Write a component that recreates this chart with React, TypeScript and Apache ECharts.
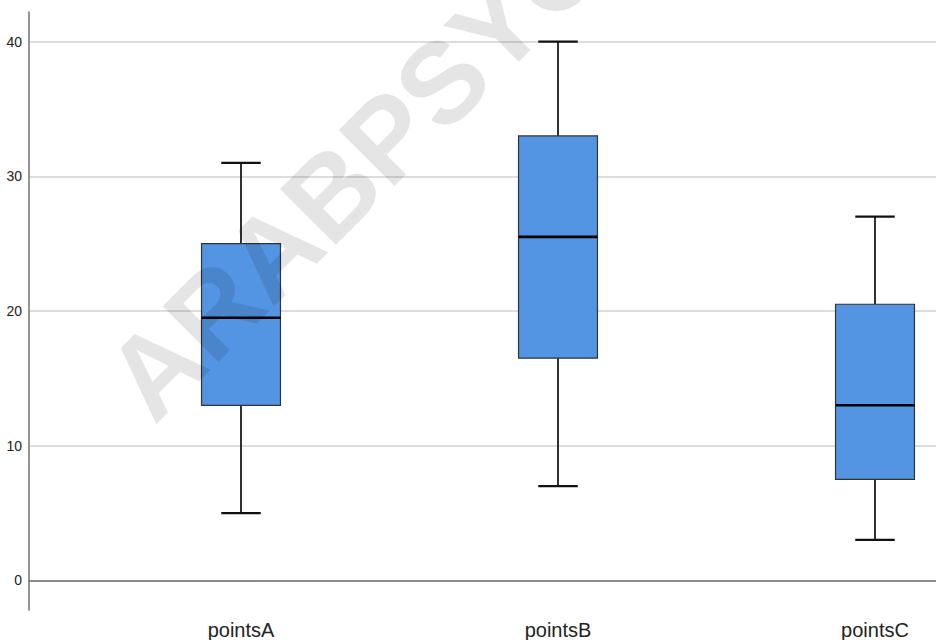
import React, { useEffect, useRef } from "react";
import * as echarts from "echarts";

const categories = ["pointsA", "pointsB", "pointsC"];
// [min, Q1, median, Q3, max]
const minValues = [5, 7, 3];
const q1Values = [13, 16.5, 7.5];
const medianValues = [19.5, 25.5, 13];
const q3Values = [25, 33, 20.5];
const maxValues = [31, 40, 27];
const watermarkText = "ARABPSYCHOLOGY";

const FONT = '"Liberation Sans", Arial, sans-serif';

export default function App() {
  const ref = useRef<HTMLDivElement>(null);

  useEffect(() => {
    if (!ref.current) return;
    const chart = echarts.init(ref.current, undefined, { renderer: "svg" });

    const boxData = categories.map((_, i) => [
      i,
      minValues[i],
      q1Values[i],
      medianValues[i],
      q3Values[i],
      maxValues[i],
    ]);

    const option: any = {
      animation: false,
      backgroundColor: "#ffffff",
      grid: [
        { left: 29, width: 920, top: 12, bottom: 30, outerBoundsMode: "none", containLabel: false },
        { left: 82.5, width: 951, top: 12, bottom: 30, outerBoundsMode: "none", containLabel: false },
      ],
      xAxis: [
        {
          gridIndex: 0,
          type: "value",
          min: 0,
          max: 1,
          axisLine: { show: true, lineStyle: { color: "#707070", width: 1.5 } },
          axisTick: { show: false },
          axisLabel: { show: false },
          splitLine: { show: false },
        },
        {
          gridIndex: 1,
          type: "category",
          data: categories,
          boundaryGap: true,
          axisLine: { show: false },
          axisTick: { show: false },
          splitLine: { show: false },
          axisLabel: {
            show: true,
            fontSize: 20,
            fontFamily: FONT,
            color: "#222222",
            margin: 10,
          },
        },
      ],
      yAxis: [
        {
          gridIndex: 0,
          type: "value",
          min: -2.2,
          max: 42.2,
          axisLine: { show: true, lineStyle: { color: "#707070", width: 1.5 } },
          axisTick: { show: false },
          axisLabel: {
            show: true,
            fontSize: 14,
            fontFamily: FONT,
            color: "#222222",
            margin: 7,
            showMinLabel: false,
            showMaxLabel: false,
            formatter: (v: number) => (Math.abs(v % 10) < 1e-9 ? String(v) : ""),
          },
          splitLine: {
            show: true,
            showMinLine: false,
            showMaxLine: false,
            lineStyle: { color: "#d2d2d2", width: 1.5 },
          },
        },
        {
          gridIndex: 1,
          type: "value",
          min: -2.2,
          max: 42.2,
          show: false,
          splitLine: { show: false },
        },
      ],
      series: [
        {
          type: "custom",
          xAxisIndex: 1,
          yAxisIndex: 1,
          data: boxData,
          encode: { x: 0, y: [1, 2, 3, 4, 5] },
          z: 5,
          renderItem: (params: any, api: any) => {
            const idx = api.value(0);
            const vMin = api.value(1);
            const vQ1 = api.value(2);
            const vMed = api.value(3);
            const vQ3 = api.value(4);
            const vMax = api.value(5);
            const band = api.size([1, 0])[0];
            const boxW = band * 0.249;
            const capW = boxW * 0.5;
            const cx = api.coord([idx, vMed])[0];
            const yMin = api.coord([idx, vMin])[1];
            const yQ1 = api.coord([idx, vQ1])[1];
            const yMed = api.coord([idx, vMed])[1];
            const yQ3 = api.coord([idx, vQ3])[1];
            const yMax = api.coord([idx, vMax])[1];
            const wStyle = { stroke: "#1a1a1a", lineWidth: 1.8 };
            return {
              type: "group",
              children: [
                { type: "line", shape: { x1: cx, y1: yQ3, x2: cx, y2: yMax }, style: wStyle },
                { type: "line", shape: { x1: cx - capW / 2, y1: yMax, x2: cx + capW / 2, y2: yMax }, style: { stroke: "#111", lineWidth: 2.2 } },
                { type: "line", shape: { x1: cx, y1: yQ1, x2: cx, y2: yMin }, style: wStyle },
                { type: "line", shape: { x1: cx - capW / 2, y1: yMin, x2: cx + capW / 2, y2: yMin }, style: { stroke: "#111", lineWidth: 2.2 } },
                {
                  type: "rect",
                  shape: { x: cx - boxW / 2, y: yQ3, width: boxW, height: yQ1 - yQ3 },
                  style: { fill: "#5395e3", stroke: "#333333", lineWidth: 1.2 },
                },
                {
                  type: "line",
                  shape: { x1: cx - boxW / 2, y1: yMed, x2: cx + boxW / 2, y2: yMed },
                  style: { stroke: "#000000", lineWidth: 2.6 },
                },
              ],
            };
          },
        },
      ],
      graphic: [
        {
          type: "text",
          x: 126,
          y: 398,
          rotation: Math.PI / 4,
          z: 100,
          silent: true,
          style: {
            text: watermarkText,
            fontSize: 115,
            fontWeight: "bold",
            fontFamily: FONT,
            fill: "rgba(0,0,0,0.1)",
            align: "left",
            verticalAlign: "middle",
          },
        },
      ],
    };

    chart.setOption(option);
    return () => chart.dispose();
  }, []);

  return (
    <div
      ref={ref}
      style={{ position: "fixed", left: 0, top: 0, width: 936, height: 640 }}
    />
  );
}
